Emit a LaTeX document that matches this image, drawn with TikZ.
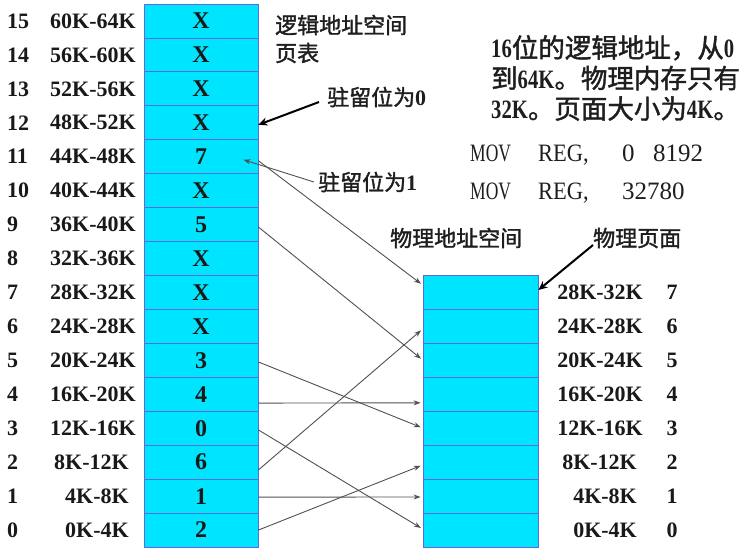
\documentclass[tikz,border=0pt]{standalone}
\usepackage{fontspec}
\usepackage{graphicx}
\setmainfont{Liberation Serif}
\newfontfamily\cjk[FakeBold=1.5]{Noto Sans CJK SC}
\usetikzlibrary{arrows.meta}
\definecolor{cellfill}{RGB}{0,229,255}
\definecolor{cellline}{RGB}{95,105,215}
\definecolor{lnk}{RGB}{80,80,80}
\definecolor{txt}{RGB}{25,25,25}
\definecolor{cntxt}{RGB}{30,30,30}
\newcommand{\nar}[1]{\scalebox{0.78}[1]{\textbf{#1}}}
\newcommand{\sq}[2]{\scalebox{#1}[1]{#2}}
\begin{document}
\begin{tikzpicture}[x=1pt,y=-1pt,
  lcell/.style={draw=cellline, fill=cellfill, line width=0.8pt, minimum width=114pt, minimum height=33.94pt, inner sep=0pt, font=\fontsize{24}{26}\selectfont\bfseries, text=txt},
  pcell/.style={draw=cellline, fill=cellfill, line width=0.8pt, minimum width=115pt, minimum height=34pt, inner sep=0pt},
  lbl/.style={inner sep=0pt, font=\fontsize{22}{24}\selectfont\bfseries, text=txt},
  cn/.style={inner sep=0pt, anchor=west, font=\fontsize{22}{24}\selectfont, text=cntxt},
  link/.style={draw=lnk, line width=0.9pt, -{Stealth[length=7pt,width=5pt]}, shorten >=2pt},
  heavy/.style={draw=black, line width=2pt, -{Stealth[length=9pt,width=8pt]}}
]
\useasboundingbox (0,0) rectangle (749,547);
% logical page table
\foreach \i/\v/\a/\x in {15/X/60K-64K/136,14/X/56K-60K/136,13/X/52K-56K/136,12/X/48K-52K/136,11/7/44K-48K/136,10/X/40K-44K/136,9/5/36K-40K/136,8/X/32K-36K/136,7/X/28K-32K/136,6/X/24K-28K/136,5/3/20K-24K/136,4/4/16K-20K/136,3/0/12K-16K/136,2/6/8K-12K/129,1/1/4K-8K/129,0/2/0K-4K/129}{
  \node[lcell] (L\i) at (201,{4+(15-\i)*33.9375+16.97}) {\v};
  \node[lbl, anchor=west] (I\i) at (7,{4+(15-\i)*33.9375+16.97}) {\i};
  \node[lbl, anchor=east] (A\i) at (\x,{4+(15-\i)*33.9375+16.97}) {\a};
}
% physical memory
\foreach \i/\a/\x in {7/28K-32K/643,6/24K-28K/643,5/20K-24K/643,4/16K-20K/643,3/12K-16K/643,2/8K-12K/637,1/4K-8K/637,0/0K-4K/637}{
  \node[pcell] (P\i) at (480.5,{275+(7-\i)*34+17}) {};
  \node[lbl, anchor=east] (PA\i) at (\x,{275+(7-\i)*34+17}) {\a};
  \node[lbl] (PI\i) at (672,{275+(7-\i)*34+17}) {\i};
}
% texts
\node[cn] (T1) at (275,25) {\cjk 逻辑地址空间};
\node[cn] (T2) at (275,53) {\cjk 页表};
\node[cn] (R0) at (327,97) {{\cjk 驻留位为}\textbf{0}};
\node[cn] (R1) at (318,182) {{\cjk 驻留位为}\textbf{1}};
\node[cn, align=left, font=\fontsize{26.5}{30.5}\selectfont] (D) at (491,78)
  {\nar{16}{\cjk 位的逻辑地址，从}\nar{0}\\{\cjk 到}\nar{64K}{\cjk 。物理内存只有}\\\nar{32K}{\cjk 。页面大小为}\nar{4K}{\cjk 。}};
\node[cn, align=left, font=\fontsize{25}{38}\selectfont] (M) at (470,174)
  {\makebox[68pt][l]{\sq{0.7}{MOV}}\makebox[84pt][l]{\sq{0.9}{REG,}}\makebox[31pt][l]{0}8192\\\makebox[68pt][l]{\sq{0.7}{MOV}}\makebox[84pt][l]{\sq{0.9}{REG,}}32780};
\node[cn] (PS) at (390,238) {\cjk 物理地址空间};
\node[cn] (PM) at (593,238) {\cjk 物理页面};
% mappings
\draw[link] ([yshift=-2.4pt]L9.east) -- (P5.west);
\draw[link] ([yshift=-4pt]L11.east) -- ([yshift=7pt]P7.west);
\draw[link] ([yshift=-1.6pt]L5.east) -- (P3.west);
\draw[link] ([yshift=-8.8pt]L4.east) -- ([yshift=-8.8pt]P4.west);
\draw[link] ([yshift=-1.7pt]L3.east) -- ([yshift=1pt]P0.west);
\draw[link] ([yshift=-7.8pt]L2.east) -- ([yshift=-3pt]P6.west);
\draw[link] ([yshift=-1pt]L1.east) -- ([yshift=-1pt]P1.west);
\draw[link] (L0.east) -- ([yshift=-3pt]P2.west);
% annotations
\coordinate (t11) at ([xshift=-15pt,yshift=-3pt]L11.east);
\draw[link, shorten >=0pt] ([xshift=-4pt]R1.west) -- (t11);
\draw[heavy] ([xshift=-8pt,yshift=-5pt]R0.west) -- ([yshift=-2pt]L12.east);
\draw[heavy] ([yshift=-7pt]PM.west) -- ([yshift=2pt]P7.east);
\end{tikzpicture}
\end{document}
